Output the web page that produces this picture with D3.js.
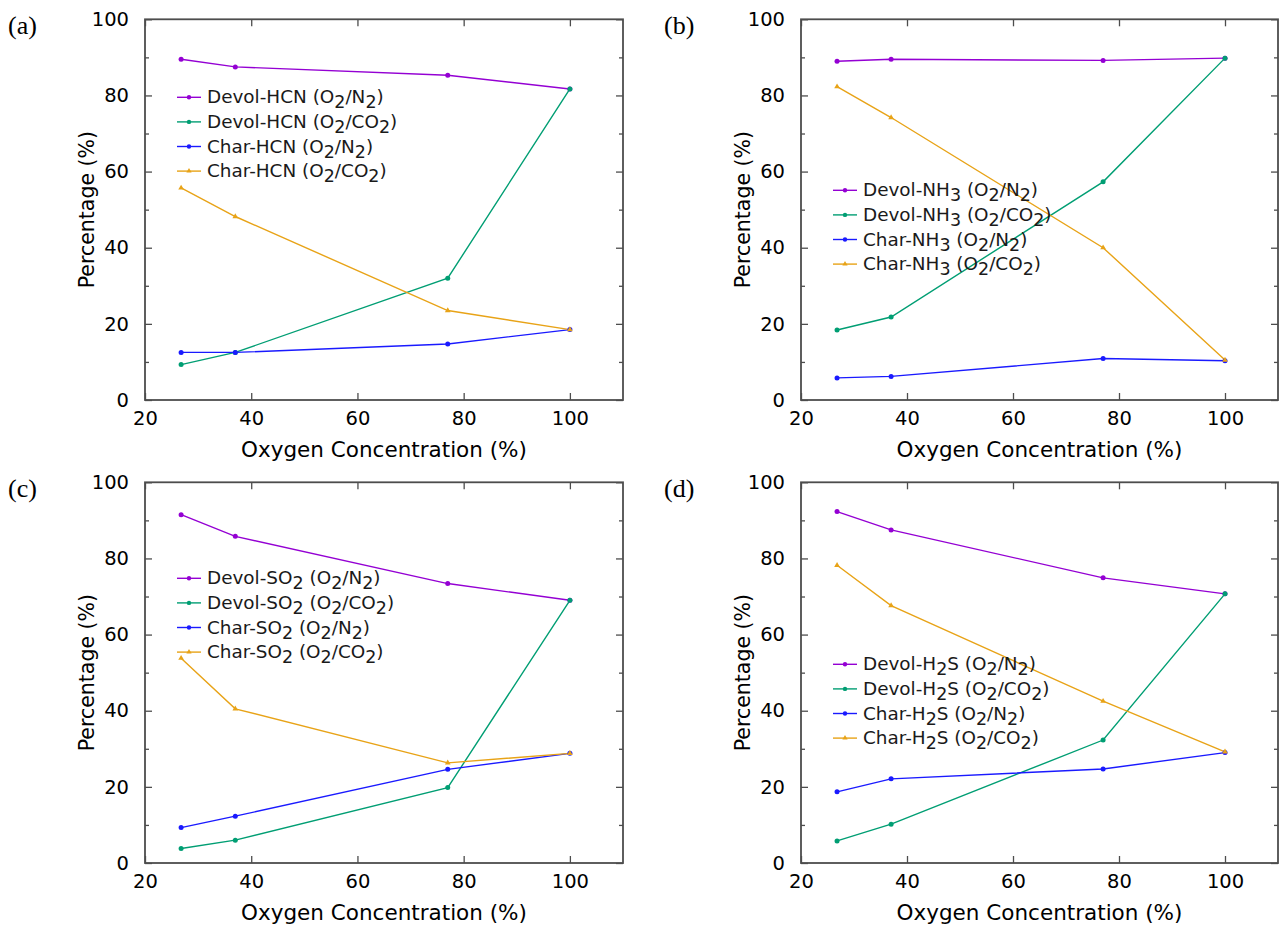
<!DOCTYPE html>
<html><head><meta charset="utf-8">
<script src="https://cdn.jsdelivr.net/npm/d3@7"></script>
<style>
body{margin:0;background:#fff;}
svg{display:block;font-family:"DejaVu Sans",sans-serif;}
</style></head>
<body><svg id="c" width="1284" height="929"></svg>
<script>
// ---- data ----
const oxygen = [26.8, 37, 77, 100];
const xTicks = [20, 40, 60, 80, 100];
const yTicks = [0, 20, 40, 60, 80, 100];
const yMinorTicks = [10, 30, 50, 70, 90];
const panelLabels = ["(a)", "(b)", "(c)", "(d)"];
const species = [["HCN",""], ["NH","3"], ["SO","2"], ["H","2","S"]];
const seriesNames = ["Devol", "Devol", "Char", "Char"];
const atmospheres = ["N2", "CO2", "N2", "CO2"];
const colors = ["#9400d3", "#009e73", "#1a1aff", "#e8a317"];

const hcnDevolN2 = [89.5, 87.5, 85.3, 81.7];
const hcnDevolCO2 = [9.3, 12.5, 32.0, 81.7];
const hcnCharN2 = [12.5, 12.5, 14.7, 18.5];
const hcnCharCO2 = [55.7, 48.2, 23.5, 18.5];

const nh3DevolN2 = [89.0, 89.5, 89.2, 89.8];
const nh3DevolCO2 = [18.4, 21.8, 57.3, 89.8];
const nh3CharN2 = [5.8, 6.2, 10.9, 10.3];
const nh3CharCO2 = [82.3, 74.2, 40.0, 10.5];

const so2DevolN2 = [91.5, 85.8, 73.4, 69.0];
const so2DevolCO2 = [3.8, 6.0, 19.8, 69.0];
const so2CharN2 = [9.3, 12.3, 24.6, 28.8];
const so2CharCO2 = [53.8, 40.5, 26.3, 28.8];

const h2sDevolN2 = [92.3, 87.5, 74.9, 70.7];
const h2sDevolCO2 = [5.8, 10.2, 32.3, 70.7];
const h2sCharN2 = [18.7, 22.1, 24.7, 29.0];
const h2sCharCO2 = [78.2, 67.6, 42.5, 29.2];

const panelData = [
  [hcnDevolN2, hcnDevolCO2, hcnCharN2, hcnCharCO2],
  [nh3DevolN2, nh3DevolCO2, nh3CharN2, nh3CharCO2],
  [so2DevolN2, so2DevolCO2, so2CharN2, so2CharCO2],
  [h2sDevolN2, h2sDevolCO2, h2sCharN2, h2sCharCO2]
];

// ---- layout ----
const cols = [[145, 623], [801, 1278]];
const rows = [[19.3, 400], [482.3, 863]];
const legendTop = [78, 171, 96, 182];
const legendStep = 24.6;
const axisColor = "#4d4d4d";

const svg = d3.select("#c");

function addSubText(sel, parts) {
  parts.forEach(([t, sub]) => {
    if (!t) return;
    const ts = sel.append("tspan").text(t);
    if (sub) ts.attr("baseline-shift", "-30%").attr("font-size", "0.95em");
  });
}

panelData.forEach((series, p) => {
  const [x0, x1] = cols[p % 2];
  const [y0, y1] = rows[Math.floor(p / 2)];
  const x = d3.scaleLinear().domain([20, 110]).range([x0, x1]);
  const y = d3.scaleLinear().domain([0, 100]).range([y1, y0]);
  const g = svg.append("g");

  const gb = g.append("g").attr("transform", `translate(0,${y1})`)
    .call(d3.axisBottom(x).tickValues(xTicks).tickSizeInner(-7).tickSizeOuter(0).tickPadding(14));
  const gt = g.append("g").attr("transform", `translate(0,${y0})`)
    .call(d3.axisTop(x).tickValues(xTicks).tickSizeInner(-7).tickSizeOuter(0).tickFormat(""));
  const gl = g.append("g").attr("transform", `translate(${x0},0)`)
    .call(d3.axisLeft(y).tickValues(yTicks).tickSizeInner(-7).tickSizeOuter(0).tickPadding(16));
  const gr = g.append("g").attr("transform", `translate(${x1},0)`)
    .call(d3.axisRight(y).tickValues(yTicks).tickSizeInner(-7).tickSizeOuter(0).tickFormat(""));
  const glm = g.append("g").attr("transform", `translate(${x0},0)`)
    .call(d3.axisLeft(y).tickValues(yMinorTicks).tickSizeInner(-4).tickSizeOuter(0).tickFormat(""));
  const grm = g.append("g").attr("transform", `translate(${x1},0)`)
    .call(d3.axisRight(y).tickValues(yMinorTicks).tickSizeInner(-4).tickSizeOuter(0).tickFormat(""));
  [gb, gt, gl, gr, glm, grm].forEach(a => {
    a.select(".domain").remove();
    a.selectAll("line").attr("stroke", axisColor).attr("stroke-width", 1.3);
    a.selectAll("text").attr("font-size", 19.5).attr("fill", "#000")
      .attr("font-family", "DejaVu Sans, sans-serif");
  });
  gb.selectAll("text").attr("dy", "0.55em");
  g.append("rect").attr("x", x0).attr("y", y0).attr("width", x1 - x0).attr("height", y1 - y0)
    .attr("fill", "none").attr("stroke", axisColor).attr("stroke-width", 1.8);

  g.append("text").attr("x", (x0 + x1) / 2).attr("y", y1 + 57)
    .attr("text-anchor", "middle").attr("font-size", 21.5).text("Oxygen Concentration (%)");
  g.append("text").attr("transform", `translate(${x0 - 51},${(y0 + y1) / 2}) rotate(-90)`)
    .attr("text-anchor", "middle").attr("font-size", 20.5).text("Percentage (%)");

  g.append("text").attr("x", x0 - 137).attr("y", y0 + 15)
    .attr("font-family", "Liberation Serif, Times New Roman, serif").attr("font-size", 26)
    .text(panelLabels[p]);

  const line = d3.line().x((d, i) => x(oxygen[i])).y(d => y(d));
  series.forEach((vals, s) => {
    g.append("path").datum(vals).attr("d", line).attr("fill", "none")
      .attr("stroke", colors[s]).attr("stroke-width", 1.4);
  });
  series.forEach((vals, s) => {
    vals.forEach((v, i) => {
      if (s === 3) {
        g.append("path").attr("d", d3.symbol(d3.symbolTriangle, 14)())
          .attr("transform", `translate(${x(oxygen[i])},${y(v)})`).attr("fill", colors[s]);
      } else {
        g.append("circle").attr("cx", x(oxygen[i])).attr("cy", y(v)).attr("r", 2.5)
          .attr("fill", colors[s]);
      }
    });
  });

  const lx = x0 + 32, ly = y0 + legendTop[p];
  series.forEach((vals, s) => {
    const yy = ly + s * legendStep;
    g.append("line").attr("x1", lx).attr("x2", lx + 24).attr("y1", yy).attr("y2", yy)
      .attr("stroke", colors[s]).attr("stroke-width", 1.4);
    if (s === 3) {
      g.append("path").attr("d", d3.symbol(d3.symbolTriangle, 12)())
        .attr("transform", `translate(${lx + 12},${yy})`).attr("fill", colors[s]);
    } else {
      g.append("circle").attr("cx", lx + 12).attr("cy", yy).attr("r", 2.2).attr("fill", colors[s]);
    }
    const t = g.append("text").attr("x", lx + 30).attr("y", yy + 6).attr("font-size", 18.4)
      .attr("fill", "#1a1a1a");
    const sp = species[p];
    const parts = [[seriesNames[s] + "-" + sp[0], false]];
    if (sp[1]) parts.push([sp[1], true]);
    if (sp[2]) parts.push([sp[2], false]);
    parts.push([" (O", false], ["2", true], ["/" + (atmospheres[s] === "N2" ? "N" : "CO"), false], ["2", true], [")", false]);
    addSubText(t, parts);
  });
});
</script>
</body></html>
